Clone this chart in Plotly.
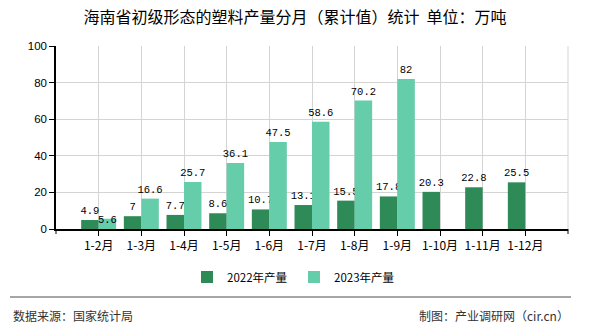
import plotly.graph_objects as go

categories = ["1-2月", "1-3月", "1-4月", "1-5月", "1-6月", "1-7月", "1-8月", "1-9月", "1-10月", "1-11月", "1-12月"]
values_2022 = [4.9, 7, 7.7, 8.6, 10.7, 13.1, 15.5, 17.8, 20.3, 22.8, 25.5]
values_2023 = [5.6, 16.6, 25.7, 36.1, 47.5, 58.6, 70.2, 82, None, None, None]
series_names = ["2022年产量", "2023年产量"]
y_ticks = [0, 20, 40, 60, 80, 100]

title_text = "海南省初级形态的塑料产量分月（累计值）统计  单位：万吨"
source_text = "数据来源：国家统计局"
credit_text = "制图：产业调研网（cir.cn）"

W, H = 590, 330
L, R, T, B = 56, 22, 46, 101
pw, ph = W - L - R, H - T - B

def py(ypix):
    return (H - B - ypix) / ph

def px(xpix):
    return (xpix - L) / pw

label_font = dict(family="Liberation Mono, DejaVu Sans Mono, monospace", size=10.5, color="#000")

# the first 2023 label sits low in the reference (inside the short bar)
pos_2023 = ["inside" if i == 0 else "outside" for i in range(len(values_2023))]

fig = go.Figure()
fig.add_trace(go.Bar(
    x=categories, y=values_2022, name=series_names[0],
    marker=dict(color="#2E8B57", line=dict(width=0)),
    text=[str(v) for v in values_2022], textposition="outside",
    textfont=label_font, outsidetextfont=label_font,
    constraintext="none", cliponaxis=False,
))
fig.add_trace(go.Bar(
    x=categories, y=values_2023, name=series_names[1],
    marker=dict(color="#66CDAA", line=dict(width=0)),
    text=[("" if v is None else str(v)) for v in values_2023], textposition=pos_2023,
    insidetextanchor="start",
    textfont=label_font, outsidetextfont=label_font, insidetextfont=label_font,
    constraintext="none", cliponaxis=False,
))

fig.update_layout(
    width=W, height=H,
    margin=dict(l=L, r=R, t=T, b=B, autoexpand=False),
    paper_bgcolor="white", plot_bgcolor="white",
    barmode="group", bargap=0.18, bargroupgap=0,
    uniformtext=dict(mode=False),
    font=dict(family="Noto Sans CJK SC, sans-serif", color="#000"),
    title=dict(text=title_text, x=0.5, xanchor="center", y=1 - 17 / H, yanchor="middle",
               font=dict(size=16, color="#000", family="Noto Sans CJK SC")),
    showlegend=True,
    legend=dict(orientation="h", x=px(294), xanchor="center", y=py(277), yanchor="middle",
                font=dict(size=11.5, color="#000"), itemwidth=30, entrywidth=62,
                tracegroupgap=0, bgcolor="rgba(0,0,0,0)"),
    xaxis=dict(
        type="category", range=[-1, len(categories)],
        showgrid=True, gridcolor="#d4d4d4", gridwidth=1,
        showline=True, linecolor="#000", linewidth=1.5,
        ticks="outside", ticklen=5, tickcolor="#000",
        tickfont=dict(size=12, color="#000", family="Noto Sans CJK SC"),
        zeroline=False, fixedrange=True,
    ),
    yaxis=dict(
        range=[0, 100], tickvals=y_ticks,
        showgrid=True, gridcolor="#d4d4d4", gridwidth=1,
        showline=True, linecolor="#000", linewidth=1.5,
        ticks="outside", ticklen=5, tickcolor="#000",
        tickfont=dict(size=11.5, color="#000", family="Liberation Sans, Arial"),
        zeroline=False, fixedrange=True,
    ),
    shapes=[
        dict(type="line", xref="paper", yref="paper", x0=1, x1=1, y0=0, y1=1,
             line=dict(color="#d4d4d4", width=1)),
        dict(type="line", xref="paper", yref="paper", x0=1, x1=1, y0=0, y1=-5 / ph,
             line=dict(color="#000", width=1)),
        dict(type="line", xref="paper", yref="paper", x0=0, x1=0, y0=0, y1=-5 / ph,
             line=dict(color="#000", width=1)),
        dict(type="line", xref="paper", yref="paper", x0=px(10), x1=px(571), y0=py(297), y1=py(297),
             line=dict(color="#888", width=1.5)),
    ],
    annotations=[
        dict(text=source_text, xref="paper", yref="paper", x=px(11), y=py(315),
             xanchor="left", yanchor="middle", showarrow=False,
             font=dict(size=12, color="#333", family="Noto Sans CJK SC")),
        dict(text=credit_text, xref="paper", yref="paper", x=px(571), y=py(315),
             xanchor="right", yanchor="middle", showarrow=False,
             font=dict(size=12, color="#333", family="Noto Sans CJK SC")),
    ],
)

fig.write_html("out.html")
